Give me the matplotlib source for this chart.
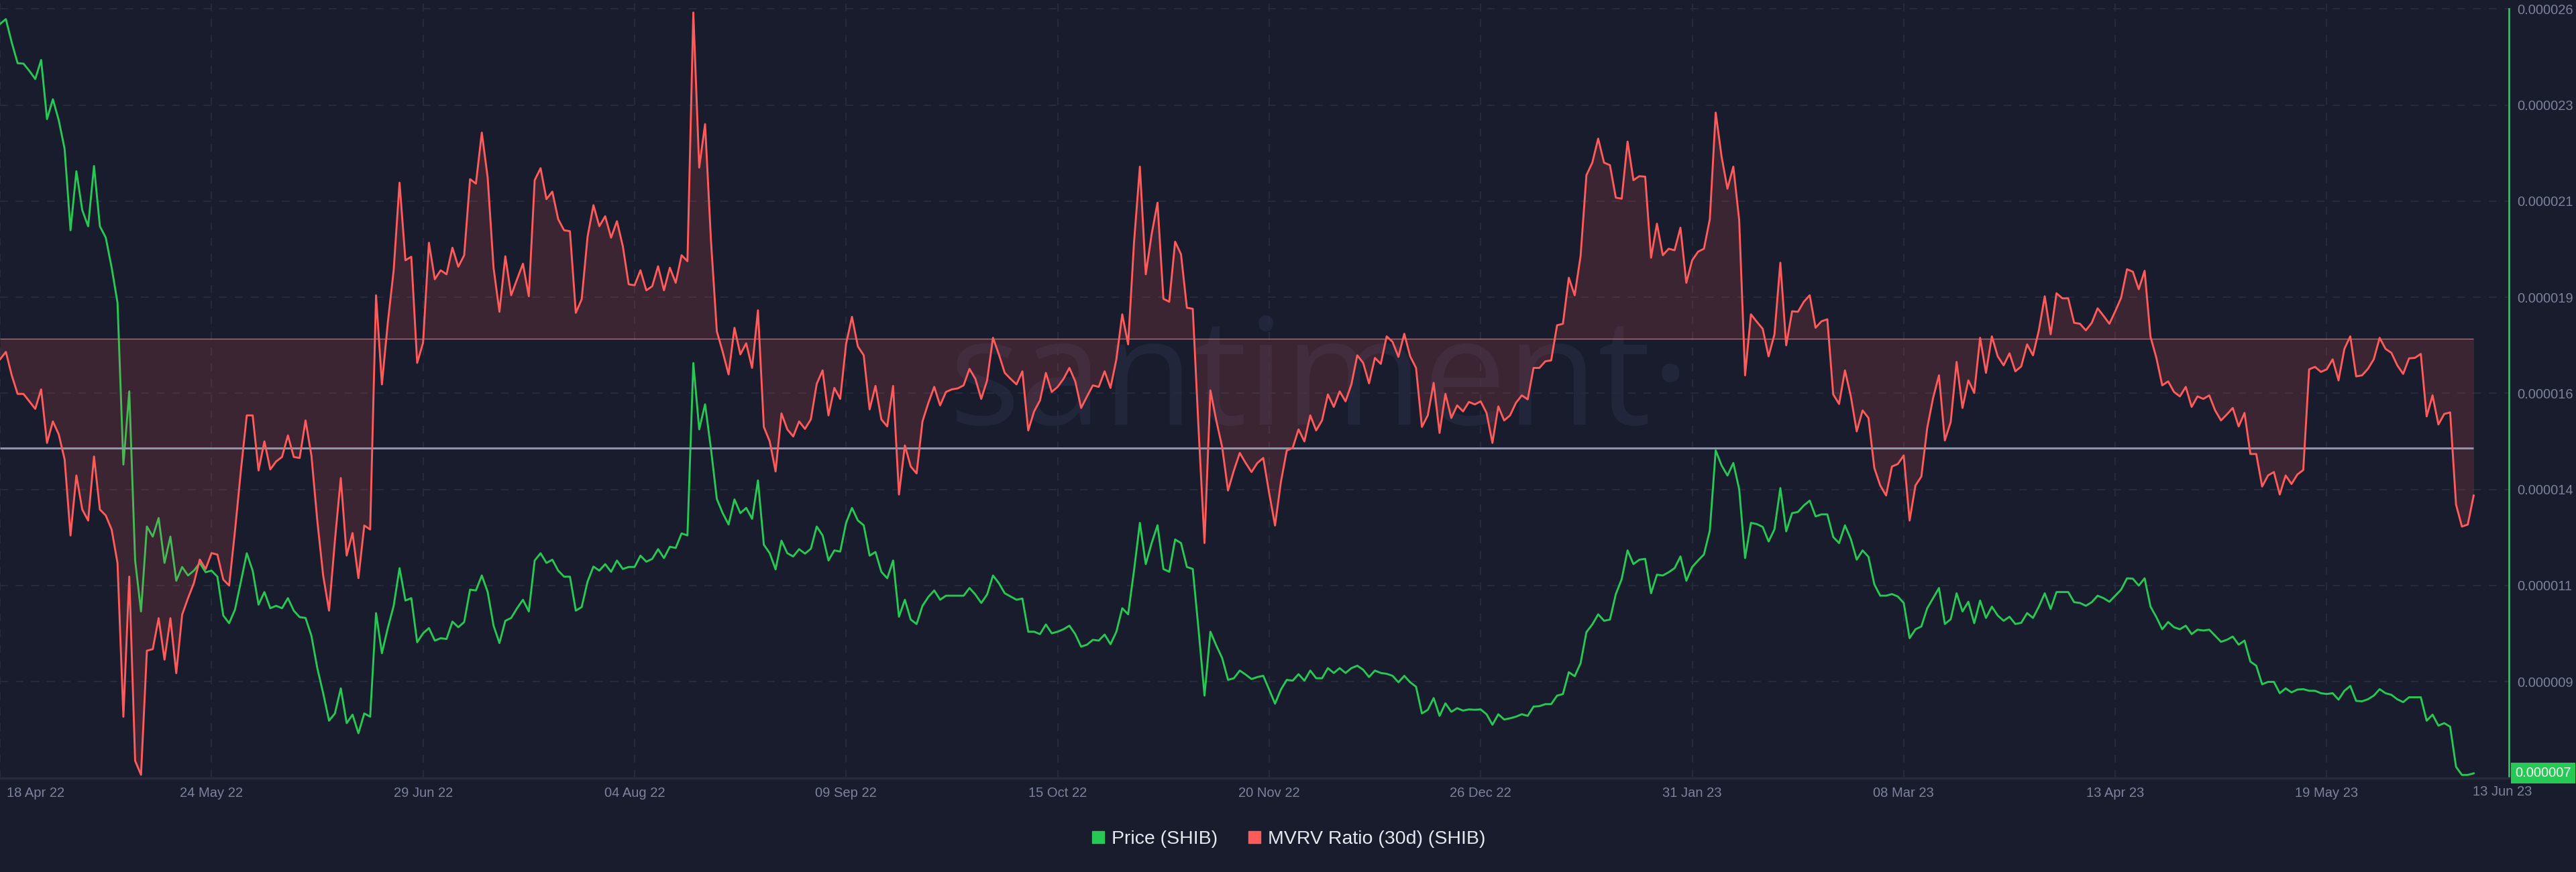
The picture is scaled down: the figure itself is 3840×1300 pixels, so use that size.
import matplotlib
matplotlib.use('Agg')
import matplotlib.pyplot as plt
import matplotlib.transforms as mtransforms
from matplotlib.lines import Line2D
import numpy as np
import pandas as pd

plt.rcParams['font.family'] = ['Liberation Sans', 'DejaVu Sans']

# Data (daily)
start_date = '2022-04-18'
series_names = ['Price (SHIB)', 'MVRV Ratio (30d) (SHIB)']

# SHIB price in millionths of a dollar
price_micro = [
    25.63, 25.75, 25.17, 24.66, 24.65, 24.47, 24.27, 24.74, 23.28, 23.77,
    23.25, 22.54, 20.53, 21.99, 21.03, 20.63, 22.12, 20.63, 20.35, 19.61,
    18.74, 14.74, 16.55, 12.37, 11.11, 13.21, 12.96, 13.42, 12.31, 12.96,
    11.87, 12.21, 12.00, 12.12, 12.31, 12.08, 12.12, 11.97, 11.01, 10.82,
    11.16, 11.85, 12.55, 12.12, 11.28, 11.59, 11.19, 11.25, 11.19, 11.44,
    11.13, 10.97, 10.95, 10.51, 9.71, 9.09, 8.41, 8.59, 9.21, 8.35,
    8.56, 8.10, 8.59, 8.51, 11.07, 10.08, 10.70, 11.25, 12.18, 11.38,
    11.44, 10.35, 10.57, 10.70, 10.39, 10.45, 10.43, 10.86, 10.72, 10.85,
    11.65, 11.63, 12.00, 11.59, 10.76, 10.33, 10.88, 10.95, 11.19, 11.40,
    11.11, 12.37, 12.55, 12.31, 12.39, 12.12, 11.97, 11.97, 11.13, 11.22,
    11.85, 12.22, 12.12, 12.28, 12.09, 12.37, 12.16, 12.21, 12.21, 12.49,
    12.34, 12.41, 12.65, 12.43, 12.71, 12.68, 13.04, 12.99, 17.25, 15.61,
    16.23, 15.13, 13.89, 13.54, 13.26, 13.88, 13.54, 13.67, 13.40, 14.35,
    12.76, 12.55, 12.15, 12.86, 12.55, 12.47, 12.65, 12.54, 12.66, 13.21,
    12.99, 12.37, 12.62, 12.59, 13.30, 13.67, 13.36, 13.24, 12.49, 12.58,
    12.09, 11.93, 12.37, 10.98, 11.40, 10.91, 10.80, 11.25, 11.47, 11.63,
    11.40, 11.50, 11.50, 11.50, 11.50, 11.69, 11.53, 11.32, 11.53, 12.00,
    11.81, 11.56, 11.48, 11.40, 11.43, 10.61, 10.61, 10.55, 10.79, 10.57,
    10.61, 10.67, 10.76, 10.55, 10.24, 10.29, 10.41, 10.39, 10.54, 10.30,
    10.61, 11.19, 11.04, 12.12, 13.30, 12.28, 12.80, 13.24, 12.16, 12.09,
    12.89, 12.80, 12.21, 12.16, 10.64, 9.03, 10.61, 10.27, 9.96, 9.42,
    9.46, 9.65, 9.55, 9.44, 9.49, 9.52, 9.18, 8.83, 9.18, 9.42,
    9.40, 9.56, 9.40, 9.65, 9.46, 9.46, 9.71, 9.59, 9.71, 9.59,
    9.71, 9.77, 9.67, 9.49, 9.65, 9.59, 9.57, 9.52, 9.36, 9.52,
    9.36, 9.25, 8.59, 8.68, 8.97, 8.53, 8.84, 8.63, 8.72, 8.66,
    8.69, 8.68, 8.69, 8.57, 8.31, 8.57, 8.44, 8.47, 8.51, 8.57,
    8.53, 8.76, 8.77, 8.82, 8.82, 9.03, 9.07, 9.61, 9.51, 9.83,
    10.60, 10.79, 11.04, 10.88, 10.91, 11.54, 11.91, 12.62, 12.28, 12.39,
    12.41, 11.56, 12.02, 12.00, 12.08, 12.18, 12.47, 11.87, 12.21, 12.37,
    12.52, 13.11, 15.09, 14.72, 14.47, 14.78, 14.13, 12.43, 13.30, 13.27,
    13.20, 12.84, 13.14, 14.16, 13.09, 13.54, 13.57, 13.73, 13.85, 13.46,
    13.51, 13.51, 12.95, 12.80, 13.24, 12.90, 12.39, 12.62, 12.46, 11.78,
    11.50, 11.50, 11.54, 11.48, 11.32, 10.45, 10.67, 10.74, 11.19, 11.44,
    11.69, 10.80, 10.92, 11.56, 11.11, 11.35, 10.82, 11.38, 10.95, 11.23,
    11.01, 10.88, 10.98, 10.80, 10.83, 11.07, 10.95, 11.23, 11.56, 11.17,
    11.59, 11.59, 11.59, 11.34, 11.32, 11.25, 11.34, 11.50, 11.44, 11.35,
    11.50, 11.65, 11.93, 11.92, 11.75, 11.93, 11.23, 10.97, 10.67, 10.85,
    10.72, 10.67, 10.76, 10.55, 10.66, 10.64, 10.66, 10.51, 10.36, 10.41,
    10.49, 10.29, 10.39, 9.87, 9.77, 9.31, 9.37, 9.37, 9.09, 9.21,
    9.11, 9.18, 9.19, 9.15, 9.15, 9.09, 9.07, 9.09, 8.93, 9.15,
    9.27, 8.90, 8.89, 8.94, 9.03, 9.19, 9.09, 9.05, 8.94, 8.87,
    8.99, 8.99, 8.99, 8.41, 8.56, 8.29, 8.35, 8.26, 7.27, 7.07,
    7.07, 7.11,
]

# MVRV ratio (30d), in percent
mvrv_pct = [
    -2.56, -1.63, -4.56, -6.88, -6.88, -7.81, -8.75, -6.31, -13.0, -10.31,
    -11.94, -15.06, -24.56, -17.06, -21.31, -22.69, -14.69, -21.31, -22.06, -23.81,
    -28.0, -47.19, -29.69, -52.69, -54.44, -38.94, -38.75, -34.88, -40.06, -34.88,
    -41.75, -34.44, -32.38, -30.5, -27.56, -28.75, -26.75, -26.94, -30.06, -30.81,
    -23.94, -16.44, -9.56, -9.56, -16.44, -12.81, -16.31, -15.31, -14.75, -12.06,
    -14.75, -14.88, -10.19, -14.56, -22.69, -29.56, -33.94, -25.19, -17.38, -27.06,
    -24.25, -29.88, -23.31, -23.81, 5.44, -5.69, 2.0, 8.56, 19.5, 9.81,
    10.25, -3.0, -0.5, 12.0, 7.44, 8.56, 8.06, 11.38, 9.0, 10.44,
    19.94, 19.38, 25.75, 20.13, 8.88, 3.38, 10.31, 5.44, 7.44, 9.38,
    5.31, 19.81, 21.31, 17.44, 18.38, 14.94, 13.56, 13.44, 3.25, 4.94,
    12.75, 16.69, 14.06, 15.31, 12.63, 14.69, 11.56, 6.81, 6.69, 8.56,
    6.06, 6.56, 9.06, 6.06, 8.88, 7.0, 10.44, 9.69, 40.75, 21.38,
    26.81, 12.31, 0.94, -1.63, -4.44, 1.38, -1.94, -0.56, -3.63, 3.56,
    -11.0, -12.81, -16.56, -9.31, -11.31, -12.19, -10.31, -11.25, -10.06, -5.63,
    -3.94, -9.56, -6.13, -7.5, -0.63, 2.75, -0.94, -2.06, -8.81, -5.88,
    -10.06, -10.94, -5.88, -19.44, -13.31, -15.94, -16.81, -10.31, -8.0, -6.0,
    -8.31, -6.63, -6.31, -6.19, -5.81, -3.75, -5.0, -7.5, -5.19, 0.13,
    -1.94, -4.25, -5.0, -5.69, -4.06, -11.44, -9.06, -7.69, -4.25, -6.63,
    -6.0, -5.0, -3.63, -5.31, -8.63, -7.19, -5.81, -6.0, -4.06, -6.13,
    -2.56, 3.06, -0.69, 12.0, 21.5, 8.06, 13.06, 17.0, 5.0, 4.63,
    12.13, 10.56, 3.88, 3.75, -11.44, -25.5, -6.44, -10.19, -13.5, -18.94,
    -16.44, -14.25, -15.5, -16.63, -15.5, -14.88, -19.25, -23.31, -17.88, -13.94,
    -13.63, -11.31, -12.81, -9.56, -11.44, -10.19, -6.94, -8.5, -6.56, -7.81,
    -5.69, -2.06, -3.0, -5.56, -2.38, -3.13, 0.31, -0.38, -2.25, 0.63,
    -2.19, -3.63, -11.0, -9.56, -5.5, -11.75, -6.88, -9.88, -8.31, -9.06,
    -7.88, -8.19, -7.81, -9.25, -13.0, -8.44, -10.19, -9.56, -8.0, -7.06,
    -7.56, -3.63, -3.63, -2.81, -2.69, 1.69, 1.88, 7.63, 5.44, 10.31,
    20.44, 22.0, 25.0, 22.0, 21.69, 17.63, 17.5, 24.63, 19.81, 20.31,
    20.25, 10.13, 14.38, 10.44, 11.25, 11.06, 13.88, 7.0, 9.81, 10.88,
    11.25, 14.94, 28.25, 22.75, 18.75, 21.5, 14.81, -4.56, 3.06, 2.13,
    1.25, -2.19, 0.56, 9.5, -0.81, 3.44, 3.38, 4.63, 5.44, 1.38,
    2.19, 2.44, -6.94, -8.13, -3.94, -7.19, -11.56, -8.94, -9.88, -16.13,
    -18.31, -19.56, -15.94, -15.63, -14.56, -22.69, -18.31, -17.19, -11.13, -7.38,
    -4.56, -12.69, -10.38, -2.88, -8.63, -5.19, -6.75, 0.13, -4.25, 0.31,
    -2.19, -3.31, -1.81, -4.06, -3.44, -0.69, -2.06, 1.06, 5.31, 0.56,
    5.69, 5.06, 5.06, 2.0, 1.88, 1.06, 2.0, 3.81, 2.88, 1.88,
    3.44, 5.13, 8.69, 8.38, 6.19, 8.5, 0.25, -2.38, -5.81, -5.31,
    -6.63, -7.19, -6.0, -8.5, -7.19, -7.5, -7.06, -8.94, -10.19, -9.44,
    -8.63, -10.94, -9.25, -14.38, -14.38, -18.44, -17.06, -16.63, -19.44, -17.06,
    -18.13, -16.94, -16.38, -3.81, -3.5, -4.13, -3.81, -2.56, -5.19, -1.25,
    0.31, -4.69, -4.56, -3.75, -2.56, 0.13, -1.25, -1.75, -3.31, -4.38,
    -2.44, -2.38, -1.88, -9.69, -7.06, -10.69, -9.38, -9.19, -20.69, -23.44,
    -23.19, -19.56,
]

mvrv_baseline = 0.0
mvrv_reference = -13.63

price_tick_labels = ['0.000026', '0.000023', '0.000021', '0.000019', '0.000016',
                     '0.000014', '0.000011', '0.000009', '0.000007']

# Colours
BG = '#191c2c'
GREEN = '#26c953'
RED = '#ff5b5b'
GREY_LINE = '#8f94b2'
GRID = '#272b3e'
TICK = '#7d839c'

dates = pd.date_range(start_date, periods=len(price_micro), freq='D')
price = np.array(price_micro) * 1e-6
mvrv = np.array(mvrv_pct)

fig = plt.figure(figsize=(38.4, 13), dpi=100, facecolor=BG)
ax = fig.add_axes([0, 140 / 1300, 3740 / 3840, 1160 / 1300])
ax.set_facecolor(BG)
ax2 = ax.twinx()

# Watermark
ax.text(0.526, 0.454, 'santiment\u00b7', transform=ax.transAxes, ha='center',
        va='baseline', fontsize=160, color='#22263b', family=['Open Sans', 'DejaVu Sans'],
        zorder=0.5)

# Price line
ax.plot(dates, price, color=GREEN, lw=2.1, zorder=3)

# MVRV area + line
ax2.fill_between(dates, mvrv, mvrv_baseline, color=RED, alpha=0.15, lw=0)
ax2.hlines(mvrv_baseline, dates[0], dates[-1], color=RED, lw=0.9)
ax2.hlines(mvrv_reference, dates[0], dates[-1], color=GREY_LINE, lw=2.2)
ax2.plot(dates, mvrv, color=RED, lw=2.1)

# Limits
ax.set_xlim(dates[0], dates[0] + pd.Timedelta(days=427))
ax.set_ylim(6.992e-6, 26.2227e-6)
ax2.set_ylim(-54.85, 42.31)

# X ticks every 36 days
xtick_dates = pd.date_range(start_date, periods=12, freq='36D')
ax.set_xticks(xtick_dates)
ax.set_xticklabels([d.strftime('%d %b %y') for d in xtick_dates])
ax.tick_params(axis='x', length=0, pad=9, labelsize=14.5, colors=TICK)
first = ax.get_xticklabels()[0]
first.set_horizontalalignment('left')
first.set_transform(first.get_transform() +
                    mtransforms.ScaledTranslation(0.10, 0, fig.dpi_scale_trans))

# last date label at the right edge
last_tr = mtransforms.blended_transform_factory(ax.transData, ax.transAxes) + \
    mtransforms.ScaledTranslation(0.43, 0, fig.dpi_scale_trans)
ax.text(dates[-1], -0.0093, dates[-1].strftime('%d %b %y'), transform=last_tr,
        ha='center', va='top', fontsize=14.5, color=TICK, clip_on=False)

# Y ticks (price) on the right
ax.yaxis.tick_right()
ax.set_yticks(np.linspace(26e-6, 7e-6, 9))
ax.set_yticklabels(price_tick_labels)
ax.tick_params(axis='y', length=0, pad=9, labelsize=14.5, colors=TICK)

ax.grid(True, color=GRID, ls=(0, (6, 6)), lw=1.4)

for s in ['top', 'left']:
    ax.spines[s].set_visible(False)
ax.spines['bottom'].set_color('#262a3b')
ax.spines['bottom'].set_linewidth(2.5)
ax.spines['right'].set_color(GREEN)
ax.spines['right'].set_linewidth(2)
ax.spines['right'].set_bounds(7e-6, 26e-6)

ax2.set_yticks([])
for s in ax2.spines.values():
    s.set_visible(False)

# current price tag
tag_tr = mtransforms.blended_transform_factory(ax.transAxes, ax.transData) + \
    mtransforms.ScaledTranslation(0.09, 0, fig.dpi_scale_trans)
ax.text(1.0, price[-1], f'{price[-1]:.6f}', transform=tag_tr, ha='left', va='center',
        fontsize=14.5, color='white', clip_on=False, zorder=6,
        bbox=dict(boxstyle='square,pad=0.3', fc=GREEN, ec='none'))

# Legend
handles = [Line2D([], [], marker='s', ls='', color=GREEN, markersize=13),
           Line2D([], [], marker='s', ls='', color=RED, markersize=13)]
fig.legend(handles, series_names, loc='center', bbox_to_anchor=(0.5, 49 / 1300),
           ncol=2, frameon=False, fontsize=20.5, labelcolor='#e6e8f0',
           handletextpad=0.3, columnspacing=1.5, handlelength=0.8)

fig.savefig('out.png', dpi=100, facecolor=BG)
